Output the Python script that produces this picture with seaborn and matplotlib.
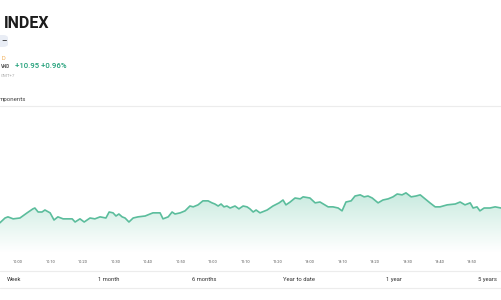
import numpy as np
import pandas as pd
import matplotlib
matplotlib.use("Agg")
import matplotlib.pyplot as plt
from matplotlib.colors import LinearSegmentedColormap
from matplotlib.patches import FancyBboxPatch
import seaborn as sns

# ---- data (trading-minute index since 10:00, lunch break collapsed) ----
minute = [-5.6, -4.0, -3.1, -1.5, 0.6, 2.8, 4.6, 5.2, 6.2, 7.4, 8.3, 9.9, 11.1, 12.3, 13.9,
          16.7, 17.6, 19.1, 20.4, 22.2, 23.7, 25.3, 27.1, 28.1, 29.3, 30.2, 31.1, 32.1, 33.0,
          34.2, 35.5, 37.0, 39.2, 40.7, 41.6, 43.8, 44.7, 46.3, 47.5, 48.4, 50.0, 51.5, 53.0,
          54.0, 55.5, 57.0, 58.6, 59.8, 60.7, 61.7, 62.6, 63.5, 64.4, 65.4, 66.9, 68.1, 69.4,
          70.6, 71.5, 72.5, 73.4, 74.6, 76.8, 78.6, 80.5, 81.7, 82.6, 83.9, 85.4, 87.0, 87.9,
          90.0, 91.6, 93.1, 95.6, 97.1, 98.7, 99.9, 101.1, 102.7, 103.9, 105.5, 106.7, 107.9,
          109.2, 111.0, 112.5, 114.1, 115.6, 116.9, 118.4, 119.6, 121.2, 122.7, 124.0, 125.5,
          127.0, 128.6, 130.1, 132.3, 134.8, 136.3, 137.8, 139.4, 140.3, 141.5, 142.4, 143.7,
          145.5, 147.1, 148.9]
index_value = [1146.4, 1148.1, 1148.5, 1147.8, 1148.1, 1149.9, 1151.3, 1151.6, 1150.2, 1150.2,
               1150.9, 1149.9, 1147.4, 1148.5, 1147.8, 1147.8, 1146.7, 1147.8, 1146.7, 1148.1,
               1147.8, 1148.5, 1148.1, 1150.2, 1149.9, 1148.8, 1149.5, 1148.5, 1148.1, 1146.7,
               1148.1, 1148.5, 1148.8, 1149.5, 1149.9, 1149.9, 1147.8, 1148.5, 1150.2, 1149.5,
               1149.9, 1150.6, 1152.3, 1152.0, 1152.7, 1154.1, 1154.1, 1153.4, 1153.0, 1152.3,
               1153.0, 1152.0, 1152.3, 1151.6, 1152.3, 1151.3, 1152.3, 1152.0, 1151.3, 1150.2,
               1150.9, 1149.9, 1150.9, 1152.3, 1153.4, 1154.4, 1152.7, 1153.7, 1155.1, 1154.8,
               1155.5, 1155.1, 1153.4, 1153.7, 1152.0, 1152.0, 1151.6, 1150.6, 1153.7, 1154.1,
               1155.8, 1156.2, 1155.5, 1155.8, 1155.1, 1153.4, 1154.4, 1154.8, 1155.5, 1156.5,
               1156.2, 1156.9, 1155.5, 1155.8, 1156.2, 1154.8, 1153.4, 1152.0, 1152.0, 1152.7,
               1153.0, 1153.7, 1152.7, 1153.4, 1151.6, 1152.0, 1150.6, 1151.6, 1151.6, 1152.0,
               1151.6]
tick_minutes = [0, 10, 20, 30, 40, 50, 60, 70, 80, 90, 100, 110, 120, 130, 140]
tick_labels = ["10:00", "10:10", "10:20", "10:30", "10:40", "10:50", "11:00", "11:10",
               "11:20", "13:00", "13:10", "13:20", "13:30", "13:40", "13:50"]
range_labels = ["Week", "1 month", "6 months", "Year to date", "1 year", "5 years"]
change_text = "+10.95 +0.96%"

df = pd.DataFrame({"minute": minute, "value": index_value})

sns.set_theme(style="white")
plt.rcParams["font.family"] = ["Roboto", "DejaVu Sans"]

W, H = 501, 300
fig = plt.figure(figsize=(W / 100, H / 100), dpi=100)
fig.patch.set_facecolor("white")

def fx(x):
    return x / W

def fy(y):
    return 1 - y / H

# chart axes: pixel y 110..252, full width
ax = fig.add_axes([0, fy(252), 1, (252 - 110) / H])
ax.set_facecolor("white")
line_color = "#5bbd9c"
sns.lineplot(data=df, x="minute", y="value", ax=ax, color=line_color, linewidth=1.2)

ymin, ymax = 1136.2, 1185.9
xmin, xmax = -5.55, 148.9
ax.set_xlim(xmin, xmax)
ax.set_ylim(ymin, ymax)

# gradient fill under the line
fill = ax.fill_between(df["minute"], df["value"], ymin, color="none")
cmap = LinearSegmentedColormap.from_list("g", ["#ffffff", "#e4f5ef", "#c8eadf"])
top_v = max(index_value)
grad = np.linspace(0, 1, 256).reshape(-1, 1)
im = ax.imshow(grad, extent=[xmin, xmax, ymin, top_v], origin="lower", cmap=cmap,
               aspect="auto", zorder=1)
poly = fill.get_paths()[0]
im.set_clip_path(poly, transform=ax.transData)
ax.lines[0].set_zorder(3)

ax.set_xticks(tick_minutes)
ax.set_xticklabels(tick_labels, fontsize=2.9, color="#555555")
ax.tick_params(axis="x", length=0, pad=6)
ax.set_yticks([])
ax.set_xlabel("")
ax.set_ylabel("")
for s in ax.spines.values():
    s.set_visible(False)

# ---- page chrome ----
fig.text(fx(4), fy(23), "INDEX", fontsize=11.5, fontweight="bold", color="#1c1c1c",
         va="center", ha="left")
pill = FancyBboxPatch((fx(-6), fy(47)), fx(14), (12 / H), boxstyle="round,pad=0,rounding_size=0.01",
                      transform=fig.transFigure, facecolor="#e9edf5", edgecolor="none")
fig.patches.append(pill)
fig.text(fx(1), fy(41), "–", fontsize=6, color="#333333", va="center", ha="left", fontweight="bold")
fig.text(fx(1), fy(58), "D", fontsize=4, color="#f0a84a", va="center", ha="left")
fig.text(fx(1), fy(66), "VND", fontsize=3.3, color="#555555", va="center", ha="left",
         fontweight="bold")
fig.text(fx(15), fy(66), change_text, fontsize=5.6, color="#1f9f78", va="center", ha="left",
         fontweight="medium")
fig.text(fx(1), fy(76), "GMT+7", fontsize=3.2, color="#aaaaaa", va="center", ha="left")
fig.text(fx(-1), fy(100), "mponents", fontsize=4.4, color="#444444", va="center", ha="left")

for yline in (106, 271, 288):
    fig.add_artist(plt.Line2D([0, 1], [fy(yline), fy(yline)], transform=fig.transFigure,
                              color="#ececec", linewidth=0.8))

range_x = [7, 98, 192, 283, 386, 478]
for xl, lab in zip(range_x, range_labels):
    fig.text(fx(xl), fy(279.5), lab, fontsize=4.2, color="#333333", va="center", ha="left")

fig.savefig("out.png", dpi=100, facecolor="white")
